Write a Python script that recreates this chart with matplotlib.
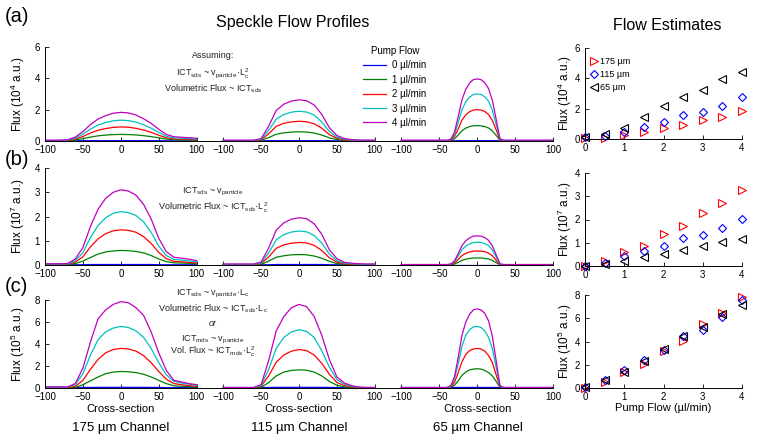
import numpy as np
import matplotlib
matplotlib.use("Agg")
import matplotlib.pyplot as plt

plt.rcParams['font.family'] = ['Liberation Sans', 'DejaVu Sans']
plt.rcParams['mathtext.fontset'] = 'custom'
plt.rcParams['mathtext.rm'] = 'Liberation Sans'
plt.rcParams['mathtext.it'] = 'Liberation Sans:italic'

# ---- data ----
channels = ["175 µm", "115 µm", "65 µm"]
pump_flows = ["0 µl/min", "1 µl/min", "2 µl/min", "3 µl/min", "4 µl/min"]
flow_colors = [(0, 0, 1), (0, 0.5, 0), (1, 0, 0), (0, 0.75, 0.75), (0.75, 0, 0.75)]

# cross-section positions (wide: 175/115 channels, narrow: 65 channel)
x_wide = [-100, -90, -80, -70, -60, -50, -40, -30, -20, -10, 0, 10, 20, 30, 40, 50, 60, 70, 80, 90, 100]
x_narrow = [-100, -80, -60, -40, -35, -30, -25, -20, -15, -10, -5, 0, 5, 10, 15, 20, 25, 30, 35, 40, 60, 80, 100]

# (a) flux profiles, 10^4 a.u. ; per channel: 0,1,2,3,4 ul/min
prof_a = [
    [[0.01, 0.01, 0.01, 0.01, 0.01, 0.02, 0.02, 0.02, 0.02, 0.02, 0.02, 0.02, 0.02, 0.02, 0.02, 0.02, 0.01, 0.01, 0.01, 0.01, 0.01],
     [0.02, 0.02, 0.02, 0.03, 0.07, 0.15, 0.25, 0.33, 0.38, 0.41, 0.42, 0.41, 0.39, 0.34, 0.28, 0.20, 0.12, 0.08, 0.07, 0.06, 0.05],
     [0.03, 0.03, 0.03, 0.04, 0.12, 0.29, 0.51, 0.69, 0.79, 0.87, 0.90, 0.88, 0.81, 0.70, 0.55, 0.37, 0.21, 0.13, 0.12, 0.10, 0.08],
     [0.04, 0.04, 0.04, 0.06, 0.18, 0.44, 0.76, 1.02, 1.18, 1.29, 1.33, 1.30, 1.21, 1.03, 0.82, 0.55, 0.31, 0.20, 0.18, 0.15, 0.12],
     [0.05, 0.05, 0.05, 0.08, 0.25, 0.60, 1.05, 1.40, 1.62, 1.77, 1.83, 1.79, 1.66, 1.42, 1.13, 0.75, 0.42, 0.27, 0.24, 0.21, 0.17]],
    [[0.01, 0.01, 0.01, 0.01, 0.01, 0.01, 0.02, 0.02, 0.02, 0.02, 0.02, 0.02, 0.02, 0.02, 0.02, 0.01, 0.01, 0.01, 0.01, 0.01, 0.01],
     [0.02, 0.02, 0.02, 0.02, 0.02, 0.04, 0.22, 0.43, 0.52, 0.57, 0.59, 0.57, 0.51, 0.38, 0.20, 0.09, 0.04, 0.03, 0.02, 0.02, 0.02],
     [0.03, 0.03, 0.03, 0.03, 0.03, 0.07, 0.46, 0.94, 1.13, 1.22, 1.26, 1.23, 1.10, 0.82, 0.41, 0.17, 0.07, 0.04, 0.03, 0.03, 0.03],
     [0.04, 0.04, 0.04, 0.04, 0.04, 0.11, 0.68, 1.40, 1.69, 1.84, 1.90, 1.85, 1.66, 1.22, 0.61, 0.25, 0.11, 0.06, 0.04, 0.04, 0.04],
     [0.05, 0.05, 0.05, 0.05, 0.05, 0.15, 0.95, 1.95, 2.35, 2.55, 2.63, 2.57, 2.30, 1.70, 0.85, 0.35, 0.15, 0.09, 0.06, 0.05, 0.05]],
    [[0.01, 0.01, 0.01, 0.01, 0.01, 0.01, 0.02, 0.02, 0.02, 0.02, 0.02, 0.02, 0.02, 0.02, 0.02, 0.02, 0.02, 0.01, 0.01, 0.01, 0.01, 0.01, 0.01],
     [0.02, 0.02, 0.02, 0.02, 0.03, 0.14, 0.38, 0.66, 0.82, 0.92, 0.97, 0.98, 0.97, 0.92, 0.83, 0.65, 0.36, 0.05, 0.02, 0.02, 0.02, 0.02, 0.02],
     [0.03, 0.03, 0.03, 0.03, 0.05, 0.28, 0.78, 1.34, 1.67, 1.87, 1.98, 2.00, 1.98, 1.88, 1.69, 1.31, 0.71, 0.08, 0.03, 0.03, 0.03, 0.03, 0.03],
     [0.04, 0.04, 0.04, 0.04, 0.08, 0.42, 1.18, 2.00, 2.50, 2.80, 2.97, 3.00, 2.97, 2.82, 2.54, 1.97, 1.06, 0.12, 0.04, 0.04, 0.04, 0.04, 0.04],
     [0.05, 0.05, 0.05, 0.05, 0.10, 0.55, 1.55, 2.65, 3.30, 3.70, 3.92, 3.96, 3.92, 3.72, 3.35, 2.60, 1.40, 0.15, 0.05, 0.05, 0.05, 0.05, 0.05]],
]

# (b) flux profiles, 10^7 a.u.
prof_b = [
    [[0.01, 0.01, 0.01, 0.01, 0.01, 0.01, 0.02, 0.02, 0.02, 0.02, 0.02, 0.02, 0.02, 0.02, 0.02, 0.01, 0.01, 0.01, 0.01, 0.01, 0.01],
     [0.02, 0.02, 0.02, 0.02, 0.06, 0.16, 0.31, 0.45, 0.54, 0.58, 0.60, 0.59, 0.56, 0.50, 0.39, 0.25, 0.14, 0.09, 0.08, 0.07, 0.05],
     [0.03, 0.03, 0.03, 0.03, 0.12, 0.34, 0.75, 1.08, 1.29, 1.41, 1.45, 1.43, 1.35, 1.17, 0.89, 0.52, 0.26, 0.15, 0.13, 0.11, 0.08],
     [0.04, 0.04, 0.04, 0.04, 0.18, 0.51, 1.14, 1.63, 1.95, 2.13, 2.20, 2.16, 2.04, 1.78, 1.35, 0.78, 0.39, 0.23, 0.20, 0.17, 0.13],
     [0.05, 0.05, 0.05, 0.06, 0.25, 0.72, 1.60, 2.30, 2.75, 3.00, 3.10, 3.05, 2.88, 2.50, 1.90, 1.10, 0.55, 0.32, 0.28, 0.24, 0.18]],
    [[0.01, 0.01, 0.01, 0.01, 0.01, 0.01, 0.01, 0.02, 0.02, 0.02, 0.02, 0.02, 0.02, 0.02, 0.01, 0.01, 0.01, 0.01, 0.01, 0.01, 0.01],
     [0.01, 0.01, 0.01, 0.01, 0.01, 0.03, 0.16, 0.32, 0.38, 0.42, 0.43, 0.42, 0.37, 0.28, 0.15, 0.06, 0.03, 0.02, 0.01, 0.01, 0.01],
     [0.02, 0.02, 0.02, 0.02, 0.02, 0.06, 0.33, 0.69, 0.83, 0.90, 0.93, 0.91, 0.81, 0.60, 0.30, 0.12, 0.05, 0.03, 0.02, 0.02, 0.02],
     [0.03, 0.03, 0.03, 0.03, 0.03, 0.08, 0.50, 1.04, 1.25, 1.36, 1.40, 1.37, 1.22, 0.91, 0.45, 0.18, 0.08, 0.05, 0.03, 0.03, 0.03],
     [0.04, 0.04, 0.04, 0.04, 0.04, 0.12, 0.70, 1.44, 1.74, 1.89, 1.95, 1.91, 1.70, 1.27, 0.63, 0.26, 0.11, 0.07, 0.05, 0.04, 0.04]],
    [[0.01, 0.01, 0.01, 0.01, 0.01, 0.01, 0.01, 0.01, 0.01, 0.01, 0.01, 0.01, 0.01, 0.01, 0.01, 0.01, 0.01, 0.01, 0.01, 0.01, 0.01, 0.01, 0.01],
     [0.01, 0.01, 0.01, 0.01, 0.01, 0.04, 0.11, 0.19, 0.24, 0.27, 0.29, 0.29, 0.29, 0.27, 0.25, 0.19, 0.10, 0.01, 0.01, 0.01, 0.01, 0.01, 0.01],
     [0.01, 0.01, 0.01, 0.01, 0.02, 0.08, 0.23, 0.39, 0.48, 0.54, 0.57, 0.58, 0.57, 0.55, 0.49, 0.38, 0.20, 0.02, 0.01, 0.01, 0.01, 0.01, 0.01],
     [0.01, 0.01, 0.01, 0.01, 0.03, 0.13, 0.37, 0.63, 0.78, 0.87, 0.93, 0.94, 0.93, 0.88, 0.80, 0.62, 0.33, 0.04, 0.01, 0.01, 0.01, 0.01, 0.01],
     [0.02, 0.02, 0.02, 0.02, 0.04, 0.17, 0.47, 0.80, 1.00, 1.12, 1.19, 1.20, 1.19, 1.13, 1.02, 0.79, 0.42, 0.05, 0.02, 0.02, 0.02, 0.02, 0.02]],
]

# (c) flux profiles, 10^5 a.u.
prof_c = [
    [[0.03, 0.03, 0.03, 0.03, 0.03, 0.05, 0.05, 0.06, 0.06, 0.06, 0.06, 0.06, 0.06, 0.06, 0.05, 0.05, 0.03, 0.03, 0.03, 0.03, 0.03],
     [0.02, 0.02, 0.02, 0.02, 0.05, 0.30, 0.65, 1.00, 1.30, 1.45, 1.50, 1.48, 1.40, 1.25, 1.00, 0.70, 0.40, 0.20, 0.15, 0.12, 0.10],
     [0.05, 0.05, 0.05, 0.05, 0.15, 0.70, 1.70, 2.60, 3.20, 3.50, 3.60, 3.55, 3.35, 2.95, 2.30, 1.50, 0.80, 0.40, 0.30, 0.22, 0.15],
     [0.08, 0.08, 0.08, 0.08, 0.30, 1.30, 3.00, 4.40, 5.10, 5.45, 5.60, 5.50, 5.20, 4.60, 3.60, 2.30, 1.20, 0.60, 0.45, 0.35, 0.25],
     [0.10, 0.10, 0.10, 0.10, 0.40, 1.80, 4.20, 6.30, 7.10, 7.60, 7.85, 7.75, 7.30, 6.60, 5.10, 3.20, 1.60, 0.70, 0.55, 0.40, 0.30]],
    [[0.03, 0.03, 0.03, 0.03, 0.03, 0.04, 0.05, 0.06, 0.06, 0.06, 0.06, 0.06, 0.06, 0.06, 0.05, 0.04, 0.03, 0.03, 0.03, 0.03, 0.03],
     [0.02, 0.02, 0.02, 0.02, 0.02, 0.05, 0.50, 1.10, 1.45, 1.60, 1.65, 1.62, 1.45, 1.10, 0.60, 0.25, 0.10, 0.05, 0.03, 0.02, 0.02],
     [0.03, 0.03, 0.03, 0.03, 0.03, 0.15, 1.10, 2.35, 3.00, 3.35, 3.50, 3.40, 3.00, 2.25, 1.25, 0.50, 0.22, 0.10, 0.04, 0.03, 0.03],
     [0.04, 0.04, 0.04, 0.04, 0.04, 0.20, 1.70, 3.60, 4.60, 5.10, 5.30, 5.15, 4.60, 3.40, 1.90, 0.75, 0.35, 0.15, 0.06, 0.04, 0.04],
     [0.05, 0.05, 0.05, 0.05, 0.05, 0.30, 2.50, 5.20, 6.50, 7.30, 7.60, 7.40, 6.50, 4.80, 2.60, 1.00, 0.45, 0.20, 0.08, 0.05, 0.05]],
    [[0.03, 0.03, 0.03, 0.03, 0.04, 0.05, 0.05, 0.05, 0.05, 0.05, 0.05, 0.05, 0.05, 0.05, 0.05, 0.05, 0.05, 0.04, 0.03, 0.03, 0.03, 0.03, 0.03],
     [0.02, 0.02, 0.02, 0.02, 0.05, 0.25, 0.65, 1.15, 1.45, 1.65, 1.72, 1.75, 1.72, 1.60, 1.40, 1.10, 0.60, 0.08, 0.02, 0.02, 0.02, 0.02, 0.02],
     [0.03, 0.03, 0.03, 0.03, 0.10, 0.50, 1.40, 2.40, 3.05, 3.40, 3.55, 3.60, 3.55, 3.35, 2.95, 2.30, 1.20, 0.15, 0.03, 0.03, 0.03, 0.03, 0.03],
     [0.04, 0.04, 0.04, 0.04, 0.15, 0.80, 2.20, 3.80, 4.80, 5.30, 5.55, 5.60, 5.50, 5.20, 4.60, 3.60, 1.90, 0.20, 0.04, 0.04, 0.04, 0.04, 0.04],
     [0.05, 0.05, 0.05, 0.05, 0.20, 1.00, 2.80, 4.80, 6.00, 6.70, 7.10, 7.20, 7.10, 6.80, 6.10, 4.70, 2.50, 0.20, 0.05, 0.05, 0.05, 0.05, 0.05]],
]

# flow estimates vs pump flow, per channel (175, 115, 65)
pump_x = [0, 0.5, 1, 1.5, 2, 2.5, 3, 3.5, 4]
est_a = [[0.05, 0.05, 0.25, 0.45, 0.70, 0.95, 1.22, 1.45, 1.82],
         [0.12, 0.20, 0.45, 0.82, 1.15, 1.57, 1.78, 2.20, 2.75],
         [0.12, 0.30, 0.75, 1.45, 2.15, 2.75, 3.20, 3.95, 4.45]]
est_b = [[0.00, 0.22, 0.59, 0.88, 1.36, 1.71, 2.27, 2.71, 3.28],
         [0.02, 0.15, 0.41, 0.66, 0.88, 1.20, 1.32, 1.64, 2.02],
         [0.02, 0.10, 0.20, 0.37, 0.51, 0.70, 0.84, 1.03, 1.14]]
est_c = [[0.00, 0.52, 1.40, 2.06, 3.14, 4.07, 5.47, 6.48, 7.85],
         [0.06, 0.73, 1.54, 2.41, 3.28, 4.45, 5.03, 6.13, 7.59],
         [0.06, 0.67, 1.34, 2.35, 3.34, 4.50, 5.26, 6.40, 7.15]]
est_markers = [('>', 'red', 5.5), ('D', 'blue', 4.0), ('<', 'black', 5.5)]

# ---- layout (pixel boxes of the original) ----
W, H = 758, 446
fig = plt.figure(figsize=(W / 100, H / 100), dpi=100)


def box(x0, x1, y0, y1):
    return [x0 / W, 1 - y1 / H, (x1 - x0) / W, (y1 - y0) / H]


def style(ax):
    for s in ("top", "right"):
        ax.spines[s].set_visible(False)
    for s in ("left", "bottom"):
        ax.spines[s].set_linewidth(0.7)
    ax.tick_params(direction="in", length=3, width=0.6, labelsize=7, pad=3)
    ax.tick_params(axis="y", pad=3.5)


offsets = [0, 235, 470]   # each channel panel sits on one shared x axis
grids = [x_wide, x_wide, x_narrow]
rows = [
    ("(a)", prof_a, est_a, 6, "4", (47, 141), (48, 139), 17),
    ("(b)", prof_b, est_b, 4, "7", (168, 265), (173, 266), 160),
    ("(c)", prof_c, est_c, 8, "5", (300, 388), (295, 388), 287),
]

for ri, (tag, prof, est, ytop, expo, lbox, rbox, tag_y) in enumerate(rows):
    ax = fig.add_axes(box(45, 553, *lbox))
    style(ax)
    for ci in range(3):
        xs = np.array(grids[ci]) + offsets[ci]
        for fi in range(5):
            ax.plot(xs, prof[ci][fi], color=flow_colors[fi], lw=0.9,
                    label=pump_flows[fi] if ci == 0 else None)
    ticks, labels = [], []
    for off in offsets:
        for t in [-100, -50, 0, 50, 100]:
            ticks.append(t + off)
            labels.append(f"{t}".replace("-", "\u2212"))
    ax.set_xticks(ticks)
    ax.set_xticklabels(labels)
    ax.set_xlim(-100, 570)
    ax.set_ylim(0, ytop)
    ax.set_yticks(range(0, ytop + 1, 2 if ytop > 4 else 1))
    fig.text(18 / W, 1 - sum(lbox) / 2 / H, f"Flux (10$^{{\\mathregular{{{expo}}}}}$ a.u.)",
             rotation=90, ha="center", va="center", fontsize=8.5)
    fig.text(5 / W, 1 - tag_y / H, tag, fontsize=14.5, ha="left", va="center")
    if ri == 0:
        ax.legend(title="Pump Flow", loc="upper left", bbox_to_anchor=(363 / W, 1 - 46 / H),
                  bbox_transform=fig.transFigure, frameon=False, fontsize=7,
                  title_fontsize=7, handlelength=2.4, handletextpad=0.6,
                  labelspacing=0.45, borderpad=0, borderaxespad=0)

    axr = fig.add_axes(box(585, 742, *rbox))
    style(axr)
    for ci, (mk, col, ms) in enumerate(est_markers):
        axr.plot(pump_x, est[ci], ls="none", marker=mk, ms=ms,
                 mfc="none", mec=col, mew=0.8, clip_on=False, label=channels[ci])
    axr.set_xlim(0, 4)
    axr.set_ylim(0, ytop)
    axr.set_xticks([0, 1, 2, 3, 4])
    axr.set_yticks(range(0, ytop + 1, 2 if ytop > 4 else 1))
    fig.text(565 / W, 1 - sum(rbox) / 2 / H, f"Flux (10$^{{\\mathregular{{{expo}}}}}$ a.u.)",
             rotation=90, ha="center", va="center", fontsize=8.5)
    if ri == 0:
        axr.legend(loc="upper left", bbox_to_anchor=(0.04, 0.9), frameon=False,
                   fontsize=6.5, handlelength=0.7, handletextpad=0.3,
                   labelspacing=0.45, borderpad=0, borderaxespad=0)
    if ri == 2:
        fig.text(663 / W, 1 - 408 / H, "Pump Flow (µl/min)", ha="center", va="center", fontsize=8)

# annotations in the profile panels
txt = dict(ha="center", va="center", fontsize=6.5, color="#222222")
notes = [
    (55, "Assuming:"),
    (73, r"ICT$_{\mathregular{sds}}$ ~ v$_{\mathregular{particle}}$·L$_{\mathregular{c}}^{\mathregular{2}}$"),
    (89, r"Volumetric Flux ~ ICT$_{\mathregular{sds}}$"),
    (192, r"ICT$_{\mathregular{sds}}$ ~ v$_{\mathregular{particle}}$"),
    (208, r"Volumetric Flux ~ ICT$_{\mathregular{sds}}$·L$_{\mathregular{c}}^{\mathregular{2}}$"),
    (294, r"ICT$_{\mathregular{sds}}$ ~ v$_{\mathregular{particle}}$·L$_{\mathregular{c}}$"),
    (309, r"Volumetric Flux ~ ICT$_{\mathregular{sds}}$·L$_{\mathregular{c}}$"),
    (340, r"ICT$_{\mathregular{mds}}$ ~ v$_{\mathregular{particle}}$"),
    (352, r"Vol. Flux ~ ICT$_{\mathregular{mds}}$·L$_{\mathregular{c}}^{\mathregular{2}}$"),
]
for y, s in notes:
    fig.text(213 / W, 1 - y / H, s, **txt)
fig.text(213 / W, 1 - 323 / H, "or", style="italic", **txt)

# titles and bottom labels
fig.text(293 / W, 1 - 23 / H, "Speckle Flow Profiles", ha="center", va="center", fontsize=11.5)
fig.text(667 / W, 1 - 25 / H, "Flow Estimates", ha="center", va="center", fontsize=11.5)
for cx, ch in zip([121, 299, 478], channels):
    fig.text(cx / W, 1 - 409 / H, "Cross-section", ha="center", va="center", fontsize=8)
    fig.text(cx / W, 1 - 428 / H, ch + " Channel", ha="center", va="center", fontsize=9.5)

fig.savefig("out.png", dpi=100)
